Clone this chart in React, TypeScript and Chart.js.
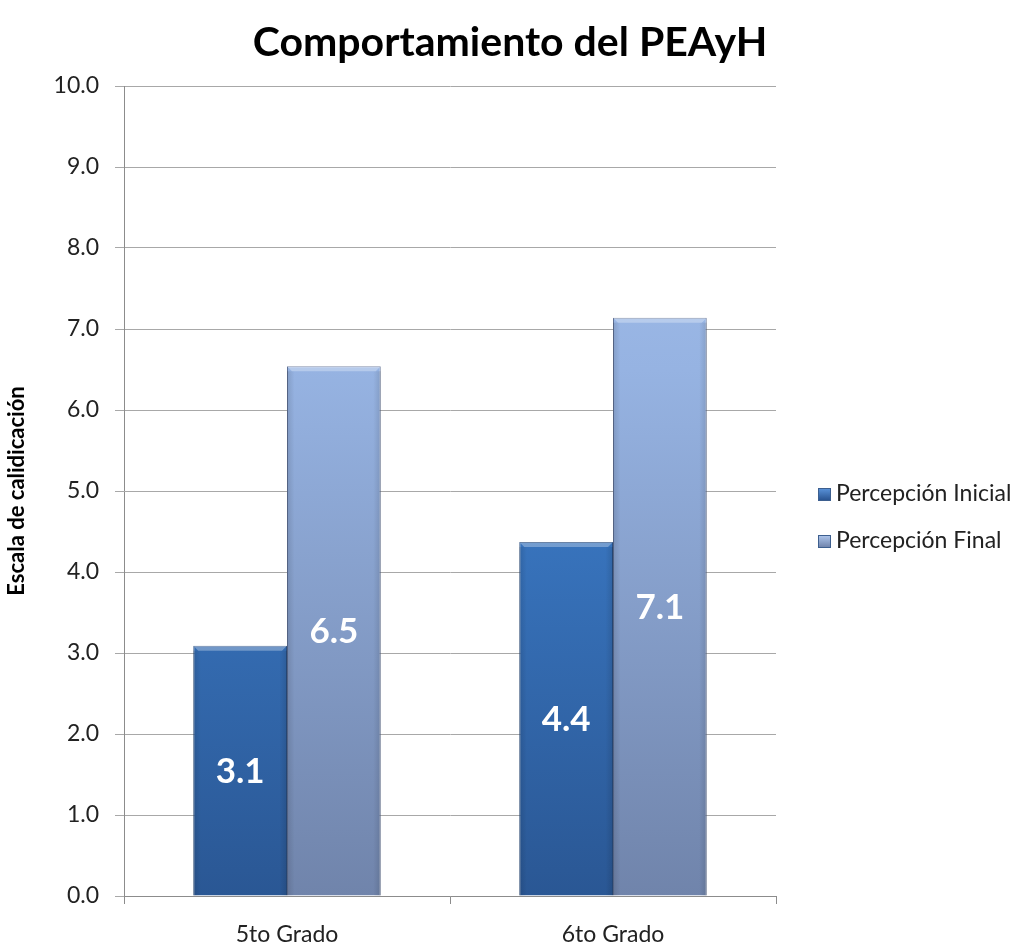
import React, { useEffect, useRef } from "react";
import { Chart, registerables } from "chart.js";

Chart.register(...registerables);

const categories = ["5to Grado", "6to Grado"];
const seriesNames = ["Percepción Inicial", "Percepción Final"];
const inicial = [3.09, 4.37];
const final = [6.54, 7.14];
const yTicks = [0, 1, 2, 3, 4, 5, 6, 7, 8, 9, 10];
const title = "Comportamiento del PEAyH";
const yTitle = "Escala de calidicación";

const FONT = "Lato, 'Open Sans', sans-serif";

function makeGrad(chart: any, stops: [number, string][]) {
  const { ctx, chartArea } = chart;
  if (!chartArea) return stops[0][1];
  const g = ctx.createLinearGradient(0, chartArea.top, 0, chartArea.bottom);
  stops.forEach(([p, c]) => g.addColorStop(p, c));
  return g;
}

const darkStops: [number, string][] = [
  [0, "#4c8ddc"],
  [0.45, "#3b7ac6"],
  [1, "#2a5794"],
];
const lightStops: [number, string][] = [
  [0, "#a6c2ee"],
  [0.35, "#96b3e2"],
  [1, "#7084ab"],
];

const bevelPlugin = {
  id: "bevel",
  afterDatasetsDraw(chart: any) {
    const { ctx } = chart;
    ctx.save();
    chart.data.datasets.forEach((_ds: any, i: number) => {
      const meta = chart.getDatasetMeta(i);
      meta.data.forEach((bar: any) => {
        const w = bar.width;
        const l = bar.x - w / 2;
        const top = bar.y;
        const h = bar.base - bar.y;
        // top bevel
        ctx.fillStyle = "rgba(255,255,255,0.30)";
        ctx.beginPath();
        ctx.moveTo(l, top);
        ctx.lineTo(l + w, top);
        ctx.lineTo(l + w - 5, top + 5);
        ctx.lineTo(l + 5, top + 5);
        ctx.closePath();
        ctx.fill();
        // side shading
        const g = ctx.createLinearGradient(l, 0, l + w, 0);
        g.addColorStop(0, "rgba(0,0,0,0.12)");
        g.addColorStop(0.08, "rgba(0,0,0,0)");
        g.addColorStop(0.92, "rgba(0,0,0,0)");
        g.addColorStop(1, "rgba(0,0,0,0.12)");
        ctx.fillStyle = g;
        ctx.fillRect(l, top + 5, w, h - 5);
      });
    });
    ctx.restore();
  },
};

const labelPlugin = {
  id: "labels",
  afterDatasetsDraw(chart: any) {
    const { ctx } = chart;
    ctx.save();
    ctx.font = `bold 35px ${FONT}`;
    ctx.fillStyle = "#ffffff";
    ctx.textAlign = "center";
    ctx.textBaseline = "middle";
    chart.data.datasets.forEach((ds: any, i: number) => {
      const meta = chart.getDatasetMeta(i);
      meta.data.forEach((bar: any, j: number) => {
        const v = ds.data[j];
        const y = (bar.y + bar.base) / 2;
        ctx.fillText(v.toFixed(1), bar.x, y + 1);
      });
    });
    ctx.restore();
  },
};

const decorPlugin = {
  id: "decor",
  afterDraw(chart: any) {
    const { ctx } = chart;
    ctx.save();
    // title
    ctx.font = `bold 41px ${FONT}`;
    ctx.fillStyle = "#000000";
    ctx.textAlign = "center";
    ctx.textBaseline = "middle";
    ctx.fillText(title, 510, 43);
    // legend
    const items = [
      { name: seriesNames[0], stops: ["#5b95dc", "#2a5592"], y: 494 },
      { name: seriesNames[1], stops: ["#b0c8ee", "#7185ad"], y: 541 },
    ];
    items.forEach((it) => {
      const g = ctx.createLinearGradient(0, it.y - 6, 0, it.y + 6);
      g.addColorStop(0, it.stops[0]);
      g.addColorStop(1, it.stops[1]);
      ctx.fillStyle = g;
      ctx.fillRect(818, it.y - 6, 13, 13);
      ctx.strokeStyle = "#3d5f8f";
      ctx.lineWidth = 1;
      ctx.strokeRect(818.5, it.y - 5.5, 12, 12);
      ctx.fillStyle = "#222222";
      ctx.font = `23px ${FONT}`;
      ctx.textAlign = "left";
      ctx.textBaseline = "middle";
      ctx.fillText(it.name, 836, it.y);
    });
    ctx.restore();
  },
};

export default function App() {
  const ref = useRef<HTMLCanvasElement>(null);
  useEffect(() => {
    if (!ref.current) return;
    const chart = new Chart(ref.current, {
      type: "bar",
      data: {
        labels: categories,
        datasets: [
          {
            label: seriesNames[0],
            data: inicial,
            backgroundColor: (c: any) => makeGrad(c.chart, darkStops),
            borderColor: "#2a4e80",
            borderWidth: 1,
            categoryPercentage: 0.575,
            barPercentage: 1,
          },
          {
            label: seriesNames[1],
            data: final,
            backgroundColor: (c: any) => makeGrad(c.chart, lightStops),
            borderColor: "#5e6f93",
            borderWidth: 1,
            categoryPercentage: 0.575,
            barPercentage: 1,
          },
        ],
      },
      options: {
        animation: false,
        responsive: false,
        maintainAspectRatio: false,
        layout: { padding: { top: 86, right: 241, bottom: 0, left: 0 } },
        plugins: {
          legend: { display: false },
          tooltip: { enabled: false },
          title: { display: false },
        },
        scales: {
          x: {
            afterFit: (s: any) => {
              s.height = 50;
            },
            grid: {
              offset: true,
              drawOnChartArea: false,
              drawTicks: true,
              tickLength: 8,
              color: "#8c8c8c",
            },
            border: { display: true, color: "#8c8c8c" },
            ticks: {
              color: "#222222",
              font: { family: FONT, size: 23 },
              padding: 17,
            },
          },
          y: {
            min: 0,
            max: 10,
            afterFit: (s: any) => {
              s.width = 124;
            },
            afterBuildTicks: (s: any) => {
              s.ticks = yTicks.map((v) => ({ value: v }));
            },
            grid: {
              color: "#a8a8a8",
              tickLength: 9,
              drawTicks: true,
            },
            border: { display: true, color: "#8c8c8c" },
            ticks: {
              color: "#222222",
              font: { family: FONT, size: 23 },
              padding: 16,
              callback: (v: any) => Number(v).toFixed(1),
            },
            title: {
              display: true,
              text: yTitle,
              color: "#000000",
              font: { family: FONT, size: 22, weight: "bold" },
              padding: { top: 4, bottom: 0 },
            },
          },
        },
      },
      plugins: [bevelPlugin, labelPlugin, decorPlugin],
    });
    return () => chart.destroy();
  }, []);
  return (
    <div style={{ position: "fixed", left: 0, top: 0, width: 1017, height: 946, background: "#ffffff" }}>
      <canvas ref={ref} width={1017} height={946} style={{ width: 1017, height: 946 }} />
    </div>
  );
}
